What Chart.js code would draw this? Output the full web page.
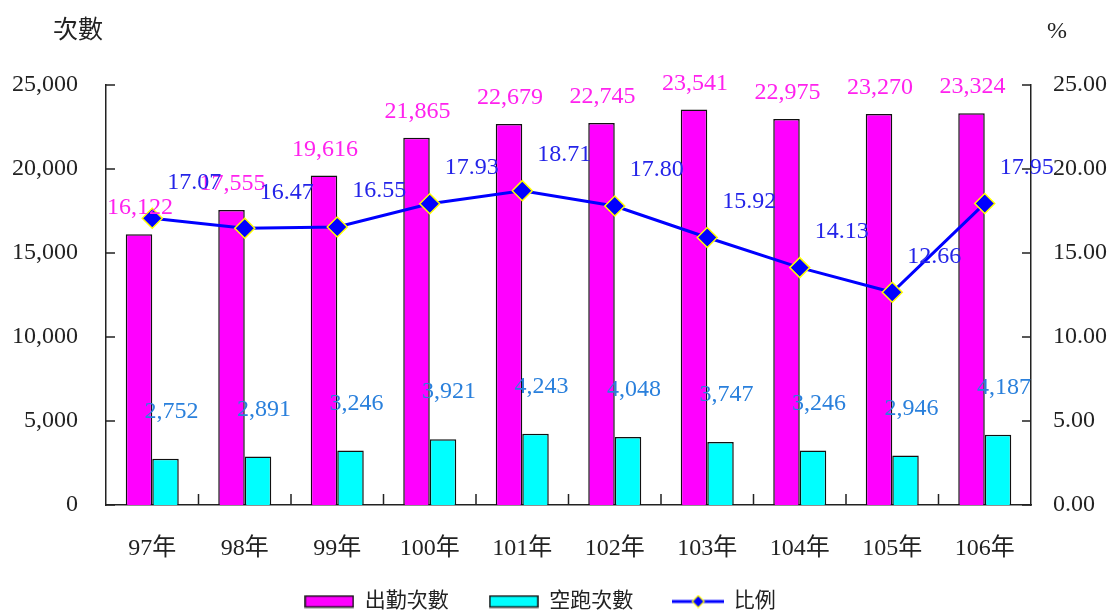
<!DOCTYPE html>
<html>
<head>
<meta charset="utf-8">
<script src="https://cdn.jsdelivr.net/npm/chart.js@4/dist/chart.umd.min.js"></script>
<style>
body{margin:0;background:#fff;}
#wrap{width:1112px;height:612px;}
</style>
</head>
<body>
<div id="wrap"><canvas id="chart"></canvas></div>
<script>
// -------- 資料 --------
const years = ["97年","98年","99年","100年","101年","102年","103年","104年","105年","106年"];
const dispatchCounts = [16122,17555,19616,21865,22679,22745,23541,22975,23270,23324];
const falseCounts = [2752,2891,3246,3921,4243,4048,3747,3246,2946,4187];
const ratios = [17.07,16.47,16.55,17.93,18.71,17.80,15.92,14.13,12.66,17.95];
const seriesNames = ["出勤次數","空跑次數","比例"];

const SERIF = "'Liberation Serif','Noto Sans CJK TC',serif";
const INK = '#222';

// -------- 圖例小圖 --------
function boxIcon(fill){
    const c = document.createElement('canvas');
    c.width = 50; c.height = 14;
    const g = c.getContext('2d');
    g.fillStyle = fill; g.fillRect(1, 1.5, 48, 11);
    g.strokeStyle = '#111'; g.lineWidth = 1.5; g.strokeRect(1, 1.5, 48, 11);
    return c;
}
function lineIcon(){
    const c = document.createElement('canvas');
    c.width = 52; c.height = 14;
    const g = c.getContext('2d');
    g.strokeStyle = '#0000FF'; g.lineWidth = 3;
    g.beginPath(); g.moveTo(0, 7); g.lineTo(52, 7); g.stroke();
    g.beginPath(); g.moveTo(26, 1); g.lineTo(32, 7); g.lineTo(26, 13); g.lineTo(20, 7); g.closePath();
    g.fillStyle = '#0000FF'; g.fill();
    g.strokeStyle = '#FFFF00'; g.lineWidth = 1.2; g.stroke();
    return c;
}
const legendIcons = [boxIcon('#FF00FF'), boxIcon('#00FFFF'), lineIcon()];

// -------- 版面微調：圖例位置、x 軸標籤不被裁切 --------
const layoutTweak = {
    id:'layoutTweak',
    afterLayout(chart){
        const lg = chart.legend;
        lg.left -= 16; lg.right -= 16;
        lg.top += 10; lg.bottom += 10;
        chart.scales.x.bottom += 40;
    }
};

// -------- 內側刻度與軸標題 --------
const innerTicks = {
    id:'innerTicks',
    afterDraw(chart){
        const {ctx, chartArea:a, scales:{x, y, y1}} = chart;
        ctx.save();
        ctx.strokeStyle = INK; ctx.lineWidth = 1.5;
        ctx.beginPath();
        y.ticks.forEach(t=>{
            const py = y.getPixelForValue(t.value);
            ctx.moveTo(a.left, py); ctx.lineTo(a.left+9, py);
        });
        y1.ticks.forEach(t=>{
            const py = y1.getPixelForValue(t.value);
            ctx.moveTo(a.right, py); ctx.lineTo(a.right-9, py);
        });
        for(let i=1;i<years.length;i++){
            const px = (x.getPixelForValue(i-1)+x.getPixelForValue(i))/2;
            ctx.moveTo(px, a.bottom); ctx.lineTo(px, a.bottom-11);
        }
        ctx.stroke();
        ctx.fillStyle = INK;
        ctx.textBaseline = 'middle';
        ctx.textAlign = 'left';
        ctx.font = `25px ${SERIF}`;
        ctx.fillText('次數', a.left-53, a.top-54);
        ctx.font = `24px ${SERIF}`;
        ctx.fillText('%', a.right+16, a.top-53);
        ctx.restore();
    }
};

// -------- 數值標籤 --------
const valueLabels = {
    id:'valueLabels',
    afterDatasetsDraw(chart){
        const ctx = chart.ctx;
        ctx.save();
        ctx.font = `24px ${SERIF}`;
        ctx.textAlign = 'center';
        ctx.textBaseline = 'middle';
        chart.data.datasets.forEach((ds,i)=>{
            const lab = ds.valueLabel;
            if(!lab) return;
            ctx.fillStyle = lab.color;
            chart.getDatasetMeta(i).data.forEach((el,j)=>{
                ctx.fillText(lab.format(ds.data[j]), el.x+lab.dx, el.y+lab.dy);
            });
        });
        ctx.restore();
    }
};

const fmtInt = v => v.toLocaleString('en-US');
const fmt2 = v => v.toFixed(2);

new Chart(document.getElementById('chart'), {
    type:'bar',
    data:{
        labels: years,
        datasets:[
            {
                label: seriesNames[0], data: dispatchCounts, yAxisID:'y', order:1,
                backgroundColor:'#FF00FF', borderColor:'#111', borderWidth:1.5,
                categoryPercentage:0.573, barPercentage:1,
                valueLabel:{color:'#FF22EE', dx:1, dy:-26, format:fmtInt}
            },
            {
                label: seriesNames[1], data: falseCounts, yAxisID:'y', order:2,
                backgroundColor:'#00FFFF', borderColor:'#111', borderWidth:1.5,
                categoryPercentage:0.573, barPercentage:1,
                valueLabel:{color:'#2A80DC', dx:6, dy:-47, format:fmtInt}
            },
            {
                type:'line', label: seriesNames[2], data: ratios, yAxisID:'y1', order:0,
                borderColor:'#0000FF', borderWidth:3, tension:0,
                pointStyle:'rectRot', pointRadius:10, pointHoverRadius:10,
                pointBackgroundColor:'#0000FF', pointBorderColor:'#FFFF00', pointBorderWidth:1.5,
                valueLabel:{color:'#2424E8', dx:42, dy:-36, format:fmt2}
            }
        ]
    },
    options:{
        responsive:true, maintainAspectRatio:false, animation:false,
        layout:{padding:{top:85, right:0, bottom:0, left:0}},
        plugins:{
            tooltip:{enabled:false},
            legend:{
                position:'bottom',
                labels:{
                    usePointStyle:true, pointStyleWidth:50, boxHeight:14,
                    padding:40, color:INK,
                    font:{family:SERIF, size:21},
                    sort:(a,b)=>a.datasetIndex-b.datasetIndex,
                    generateLabels(chart){
                        return Chart.defaults.plugins.legend.labels.generateLabels(chart).map(it=>{
                            it.pointStyle = legendIcons[it.datasetIndex];
                            return it;
                        });
                    }
                }
            }
        },
        scales:{
            x:{
                grid:{display:false, drawTicks:false},
                border:{color:INK, width:1.5},
                ticks:{color:INK, padding:29, font:{family:SERIF, size:24}, maxRotation:0},
                afterFit(s){ s.height = 36; }
            },
            y:{
                position:'left', min:0, max:25000,
                grid:{display:false, drawTicks:false},
                border:{color:INK, width:1.5},
                ticks:{stepSize:5000, color:INK, padding:28, font:{family:SERIF, size:24}, callback:v=>fmtInt(v)},
                afterFit(s){ s.width = 106; }
            },
            y1:{
                position:'right', min:0, max:25,
                grid:{display:false, drawTicks:false},
                border:{color:INK, width:1.5},
                ticks:{stepSize:5, color:INK, padding:22, font:{family:SERIF, size:24}, callback:v=>fmt2(v)},
                afterFit(s){ s.width = 81; }
            }
        }
    },
    plugins:[layoutTweak, innerTicks, valueLabels]
});
</script>
</body>
</html>
